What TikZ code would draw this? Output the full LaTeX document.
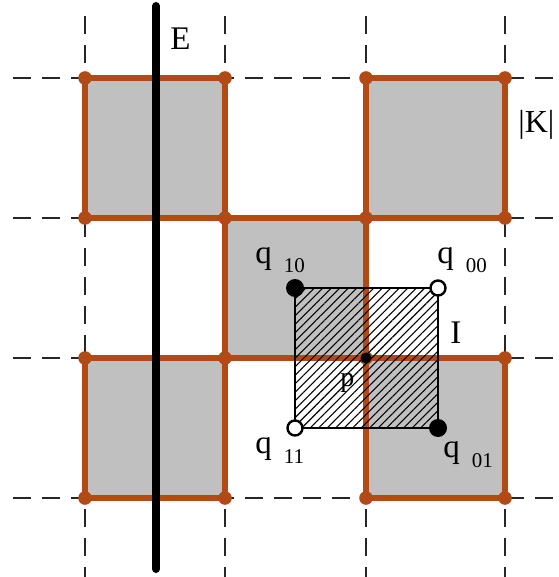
\documentclass[tikz,border=0pt]{standalone}
\usepackage{fontspec}
\setmainfont{Liberation Serif}
\usetikzlibrary{patterns.meta,calc}
\definecolor{edgeorange}{RGB}{178,74,22}
\definecolor{cellgray}{RGB}{192,192,192}
\newcommand\qlab[1]{q\hspace{6pt}\raisebox{-5pt}{\fontsize{10.5}{11}\selectfont #1}}
\begin{document}
\begin{tikzpicture}[x=0.5pt,y=-0.5pt,
  gridline/.style={dash pattern=on 9pt off 5.5pt, line width=1pt, black!85},
  cell/.style={fill=cellgray},
  cedge/.style={draw=edgeorange, line width=2.6pt},
  vdot/.style={circle, fill=edgeorange, inner sep=0pt, minimum size=6.8pt},
  solidq/.style={circle, fill=black, inner sep=0pt, minimum size=9pt},
  openq/.style={circle, draw=black, line width=1.2pt, fill=white, inner sep=0pt, minimum size=7.5pt},
  pdot/.style={circle, fill=black, inner sep=0pt, minimum size=5.5pt},
  lbl/.style={font=\fontsize{16.5}{18}\selectfont, inner sep=0pt, anchor=base west},
  hatch/.style={pattern={Lines[angle=45, distance=3pt, line width=0.55pt]}, pattern color=black},
  sqedge/.style={draw=black, line width=1pt}]
\useasboundingbox (0,0) rectangle (558,577);
% grid coordinates
\foreach \x [count=\i from 0] in {85,225,366,505}
  \foreach \y [count=\j from 0] in {78,218,358,498}
    \coordinate (g\i\j) at (\x,\y);
% dashed grid lines
\foreach \i in {0,1,2,3} {
  \coordinate (vt\i) at ($(g\i0)+(0,-62)$);
  \coordinate (vb\i) at ($(g\i3)+(0,79)$);
}
\foreach \j in {0,1,2,3} {
  \coordinate (hl\j) at ($(g0\j)+(-72,0)$);
  \coordinate (hr\j) at ($(g3\j)+(53,0)$);
}
\foreach \i in {0,1,2,3} \draw[gridline] (vt\i) -- (vb\i);
\foreach \j in {0,1,2,3} \draw[gridline] (hl\j) -- (hr\j);
% gray cells with orange edges
\foreach \a/\b in {00/11, 20/31, 11/22, 02/13, 22/33}
  \draw[cell, cedge] (g\a) rectangle (g\b);
% vertex dots
\foreach \i in {0,1,2,3}
  \foreach \j in {0,1,2,3}
    \node[vdot] (d\i\j) at (g\i\j) {};
% line E
\coordinate (Etop) at (156,6);
\coordinate (Ebot) at (156,569);
\draw[line width=4pt, line cap=round] (Etop) -- (Ebot);
\node[lbl] (Elab) at (170,50) {E};
\node[lbl, font=\fontsize{16}{18}\selectfont] (Klab) at (518,133) {|K|};
% hatched square I
\coordinate (c10) at (295,288);
\coordinate (c00) at (438,288);
\coordinate (c01) at (438,428);
\coordinate (c11) at (295,428);
\fill[hatch] (c10) rectangle (c01);
\draw[sqedge] (c10) -- (c00) -- (c01) -- (c11) -- cycle;
\node[solidq] (q10) at (c10) {};
\node[solidq] (q01) at (c01) {};
\node[openq] (q00) at (c00) {};
\node[openq] (q11) at (c11) {};
\node[pdot] (p) at (g22) {};
% labels
\node[lbl] (l10) at (255,263) {\qlab{10}};
\node[lbl] (l00) at (437,263) {\qlab{00}};
\node[lbl] (l11) at (255,453) {\qlab{11}};
\node[lbl] (l01) at (443,457) {\qlab{01}};
\node[lbl] (Ilab) at (450,343) {I};
\node[lbl, font=\fontsize{14}{16}\selectfont] (plab) at (340,386) {p};
\end{tikzpicture}
\end{document}
